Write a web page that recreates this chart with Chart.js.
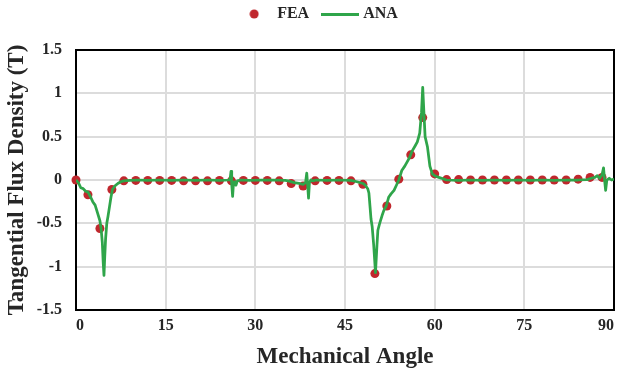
<!DOCTYPE html>
<html>
<head>
<meta charset="utf-8">
<script src="https://cdn.jsdelivr.net/npm/chart.js@4"></script>
<style>
  html, body { margin: 0; padding: 0; background: #fff; }
  #wrap { width: 620px; height: 376px; }
</style>
</head>
<body>
<div id="wrap"><canvas id="flux"></canvas></div>
<script>
// FEA samples (one every 2 degrees)
const feaAngle = [0, 2, 4, 6, 8, 10, 12, 14, 16, 18, 20, 22, 24, 26, 28, 30, 32, 34, 36, 38,
  40, 42, 44, 46, 48, 50, 52, 54, 56, 58, 60, 62, 64, 66, 68, 70, 72, 74, 76, 78,
  80, 82, 84, 86, 88];
const feaValue = [0, -0.17, -0.56, -0.11, -0.01, -0.005, -0.005, -0.005, -0.005, -0.01,
  -0.01, -0.01, -0.005, -0.01, -0.005, -0.005, -0.005, -0.01, -0.04, -0.07,
  -0.01, -0.005, -0.005, -0.01, -0.05, -1.08, -0.3, 0.01, 0.29, 0.72,
  0.07, 0.005, 0.005, 0, 0, 0, 0, 0, 0, 0,
  0, 0, 0.01, 0.03, 0.03];

// analytical curve
const anaAngle = [0, 0.4, 0.8, 1.2, 1.6, 2.0, 2.4, 2.8, 3.2, 3.6, 4.0, 4.2, 4.4, 4.55, 4.68, 4.8,
  4.95, 5.15, 5.35, 5.6, 5.85, 6.1, 6.5, 7.0, 7.5, 8.0, 9.0, 10.5, 12, 14, 16, 18, 20, 22, 24,
  25.6, 25.8, 25.93, 26.05, 26.2, 26.35, 26.55, 26.75, 27.0, 27.5, 29, 31, 33, 35,
  35.5, 36.5, 37.3, 38.0, 38.4, 38.6, 38.75, 38.9, 39.05, 39.3, 39.6, 40.2, 42, 44, 46,
  47.0, 48.0, 48.4, 48.8, 49.0, 49.2, 49.35, 49.55, 49.8, 50.1, 50.35, 50.5, 50.8, 51.2, 51.5,
  51.9, 52.3, 52.7, 53.2, 53.6, 54.0, 54.5, 55.0, 55.4, 55.8, 56.2, 56.7, 57.1, 57.5, 57.8,
  58.0, 58.2, 58.4, 58.8, 59.2, 59.6, 60.0, 60.7, 62, 64, 66, 68, 70, 72, 74, 76, 78, 80,
  82, 84, 85.5, 86.2, 86.8, 87.2, 87.6, 88.0, 88.25, 88.45, 88.6, 88.8, 89.2, 89.6, 90];
const anaValue = [0, -0.03, -0.09, -0.10, -0.13, -0.14, -0.19, -0.25, -0.29, -0.38, -0.47, -0.56, -0.72, -0.95, -1.10, -0.90,
  -0.68, -0.50, -0.42, -0.31, -0.20, -0.11, -0.07, -0.04, -0.02, -0.01, -0.005, 0, -0.005, 0, -0.005, 0, -0.005, 0, -0.005,
  0, 0.02, 0.10, -0.05, -0.19, -0.03, -0.02, -0.06, -0.01, 0, -0.005, 0, 0, -0.005,
  -0.01, -0.03, -0.04, -0.05, -0.03, 0.08, -0.06, -0.21, -0.03, 0.0, -0.01, 0, -0.005, 0, -0.005,
  -0.02, -0.04, -0.06, -0.10, -0.15, -0.32, -0.45, -0.54, -0.75, -1.07, -0.75, -0.58, -0.50, -0.41, -0.35,
  -0.30, -0.20, -0.16, -0.12, -0.06, 0.0, 0.11, 0.16, 0.21, 0.26, 0.33, 0.39, 0.44, 0.54, 0.78,
  1.07, 0.78, 0.50, 0.38, 0.16, 0.07, 0.05, 0.03, 0, -0.005, 0, -0.005, 0, -0.005, 0, -0.005, 0, -0.005,
  0, 0, 0.005, 0.02, 0.03, 0.05, 0.02, 0.06, 0.14, -0.02, -0.12, 0.0, 0.02, 0.0, 0.01];

const xTicks = [0, 15, 30, 45, 60, 75, 90];
const yTicks = [-1.5, -1, -0.5, 0, 0.5, 1, 1.5];

const RED = "#c0272d";
const GREEN = "#2fa54a";
const INK = "#262626";
const SERIF = "'Liberation Serif', 'Times New Roman', serif";

function toPoints(xs, ys) {
  return xs.map((x, i) => ({ x: x, y: ys[i] }));
}

// small canvases used as legend symbols
function makeDot() {
  const c = document.createElement("canvas");
  c.width = 10; c.height = 10;
  const g = c.getContext("2d");
  g.fillStyle = RED;
  g.beginPath();
  g.arc(5, 5, 4.5, 0, Math.PI * 2);
  g.fill();
  return c;
}
function makeDash() {
  const c = document.createElement("canvas");
  c.width = 38; c.height = 3;
  const g = c.getContext("2d");
  g.fillStyle = GREEN;
  g.fillRect(0, 0, 38, 3);
  return c;
}

// black frame round the plot area (drawn under the markers)
const frame = {
  id: "frame",
  beforeDatasetsDraw(chart) {
    const { ctx, chartArea: a } = chart;
    ctx.save();
    ctx.strokeStyle = "#000";
    ctx.lineWidth = 2;
    ctx.strokeRect(a.left, a.top, a.right - a.left, a.bottom - a.top);
    ctx.restore();
  },
};

// fixed legend band height and a small nudge of its position
const legendBand = {
  id: "legendBand",
  beforeInit(chart) {
    const leg = chart.legend;
    const fit = leg.fit;
    leg.fit = function () {
      fit.call(this);
      this.height = 50;
    };
    const draw = leg.draw;
    leg.draw = function () {
      this.ctx.save();
      this.ctx.translate(9, -10);
      draw.call(this);
      this.ctx.restore();
    };
  },
};

const ctx = document.getElementById("flux").getContext("2d");
new Chart(ctx, {
  type: "scatter",
  data: {
    datasets: [
      {
        label: "FEA",
        data: toPoints(feaAngle, feaValue),
        backgroundColor: RED,
        borderColor: RED,
        pointRadius: 4.5,
        pointBorderWidth: 0,
        showLine: false,
        clip: false,
        order: 1,
      },
      {
        label: "ANA",
        data: toPoints(anaAngle, anaValue),
        borderColor: GREEN,
        backgroundColor: GREEN,
        borderWidth: 2.75,
        borderJoinStyle: "round",
        pointRadius: 0,
        showLine: true,
        tension: 0,
        order: 0,
      },
    ],
  },
  options: {
    responsive: true,
    maintainAspectRatio: false,
    animation: false,
    events: [],
    layout: {
      autoPadding: false,
      padding: { top: 0, left: 3, right: 4, bottom: 0 },
    },
    scales: {
      x: {
        type: "linear",
        min: 0,
        max: 90,
        afterBuildTicks: (scale) => {
          scale.ticks = xTicks.map((v) => ({ value: v }));
        },
        afterFit: (scale) => {
          scale.height = 66;
        },
        grid: { color: "#dcdcdc", lineWidth: 2, drawTicks: false },
        border: { display: false },
        ticks: {
          align: "inner",
          padding: 6,
          color: INK,
          font: { family: SERIF, size: 16, weight: "bold" },
        },
        title: {
          display: true,
          text: "Mechanical Angle",
          color: INK,
          font: { family: SERIF, size: 23, weight: "bold" },
          padding: { top: 0, bottom: 5 },
        },
      },
      y: {
        type: "linear",
        min: -1.5,
        max: 1.5,
        afterBuildTicks: (scale) => {
          scale.ticks = yTicks.map((v) => ({ value: v }));
        },
        afterFit: (scale) => {
          scale.width = 73;
        },
        grid: { color: "#dcdcdc", lineWidth: 2, drawTicks: false },
        border: { display: false },
        ticks: {
          padding: 14,
          color: INK,
          font: { family: SERIF, size: 16, weight: "bold" },
          callback: (v) => String(v),
        },
        title: {
          display: true,
          text: "Tangential Flux Density (T)",
          color: INK,
          font: { family: SERIF, size: 23, weight: "bold" },
          padding: { top: 0, bottom: 0 },
        },
      },
    },
    plugins: {
      tooltip: { enabled: false },
      legend: {
        display: true,
        position: "top",
        labels: {
          usePointStyle: true,
          pointStyleWidth: 30,
          padding: 16,
          color: INK,
          font: { family: SERIF, size: 16, weight: "bold" },
          sort: (a, b) => a.datasetIndex - b.datasetIndex,
          generateLabels: () => [
            { text: "FEA", pointStyle: makeDot(), datasetIndex: 0, fillStyle: RED, strokeStyle: RED, lineWidth: 0, fontColor: INK, hidden: false },
            { text: "ANA", pointStyle: makeDash(), datasetIndex: 1, fillStyle: GREEN, strokeStyle: GREEN, lineWidth: 0, fontColor: INK, hidden: false },
          ],
        },
      },
    },
  },
  plugins: [frame, legendBand],
});
</script>
</body>
</html>
